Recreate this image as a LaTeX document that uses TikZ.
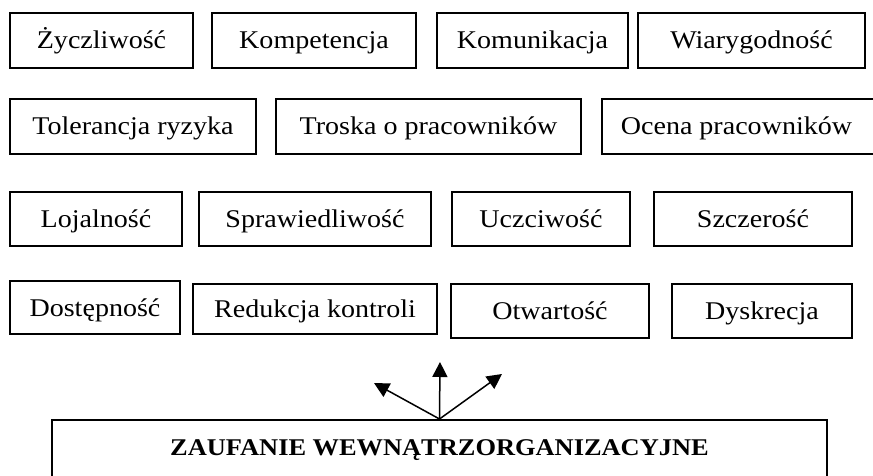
\documentclass[tikz,border=0pt]{standalone}
\usepackage{fontspec}
\setmainfont[FakeStretch=1.1]{Liberation Serif}
\usetikzlibrary{arrows.meta}
\tikzset{
  box/.style={draw, line width=1.5pt, inner sep=0pt, text height=17pt, text depth=0pt,
    font=\fontsize{25.5}{30}\selectfont},
  bigbox/.style={draw, line width=1.5pt, inner sep=0pt, text height=16pt, text depth=14pt,
    font=\fontsize{24}{28}\selectfont\bfseries},
  arr/.style={line width=1.5pt, -{Triangle[length=15pt,width=15pt]}}
}
\begin{document}
\begin{tikzpicture}[x=1pt,y=-1pt]
\useasboundingbox[fill=white] (0,0) rectangle (873,476);
% row 1
\node[box, minimum width=183pt, minimum height=55pt] (zy) at (101.5,40.5) {Życzliwość};
\node[box, minimum width=204pt, minimum height=55pt] (kp) at (314,40.5) {Kompetencja};
\node[box, minimum width=191pt, minimum height=55pt] (km) at (532.5,40.5) {Komunikacja};
\node[box, minimum width=227pt, minimum height=55pt] (wi) at (751.5,40.5) {Wiarygodność};
% row 2
\node[box, minimum width=246pt, minimum height=55pt] (to) at (133,126.5) {Tolerancja ryzyka};
\node[box, minimum width=305pt, minimum height=55pt] (tr) at (428.5,126.5) {Troska o pracowników};
\node[box, minimum width=278pt, minimum height=55pt] (oc) at (741,126.5) {Ocena pracowników\hspace*{9pt}};
% row 3
\node[box, minimum width=172pt, minimum height=54pt] (lo) at (96,219) {Lojalność};
\node[box, minimum width=232pt, minimum height=54pt] (sp) at (315,219) {Sprawiedliwość};
\node[box, minimum width=178pt, minimum height=54pt] (uc) at (541,219) {Uczciwość};
\node[box, minimum width=198pt, minimum height=54pt] (sz) at (753,219) {Szczerość};
% row 4
\node[box, minimum width=170pt, minimum height=53pt] (do) at (95,307.5) {Dostępność};
\node[box, minimum width=244pt, minimum height=50pt] (re) at (315,309) {Redukcja kontroli};
\node[box, minimum width=198pt, minimum height=54pt] (ot) at (550,311) {Otwartość};
\node[box, minimum width=180pt, minimum height=54pt] (dy) at (762,311) {Dyskrecja};
% bottom
\node[bigbox, minimum width=775pt, minimum height=70pt, anchor=north] (za) at (439.5,419) {ZAUFANIE WEWNĄTRZORGANIZACYJNE};
\coordinate (tl) at (374,383);
\coordinate (tu) at (440,362);
\coordinate (tr2) at (502,374);
\draw[arr] (za.north) -- (tl);
\draw[arr] (za.north) -- (tu);
\draw[arr] (za.north) -- (tr2);
\end{tikzpicture}
\end{document}
